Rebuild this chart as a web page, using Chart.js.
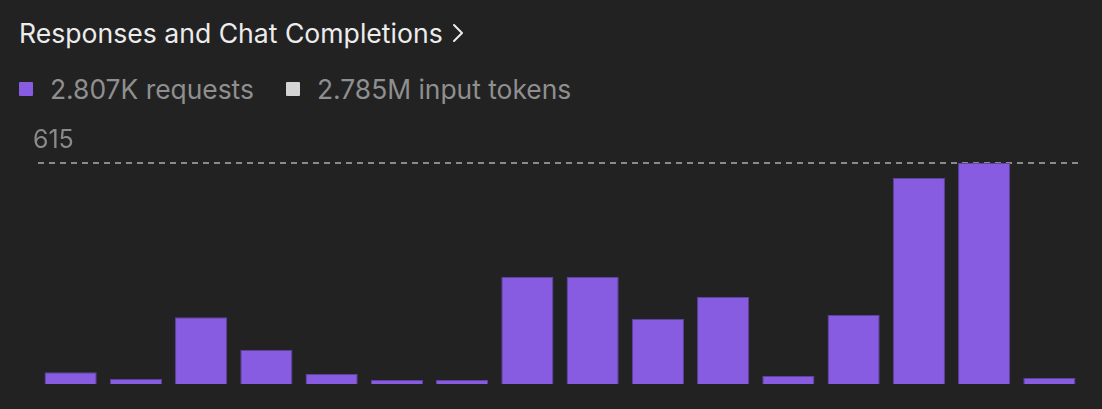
<!DOCTYPE html>
<html>
<head>
<meta charset="utf-8">
<script src="https://cdn.jsdelivr.net/npm/chart.js@4"></script>
<style>
  html, body { margin: 0; padding: 0; background: #222222; }
  body { width: 1102px; height: 409px; position: relative; overflow: hidden; font-family: Inter, "Noto Sans", sans-serif; }
  .title { position: absolute; left: 19px; top: 17px; font-size: 26.6px; line-height: 32px; color: #ececec; display: flex; align-items: center; }
  .title svg { margin-left: 8px; }
  .legend { position: absolute; left: 19px; top: 73px; font-size: 26.4px; line-height: 32px; color: #8f8f8f; display: flex; align-items: center; }
  .legend .item { display: flex; align-items: center; margin-right: 32px; }
  .legend .sw { width: 14px; height: 14px; margin-right: 17px; border-radius: 1px; }
  #wrap { position: absolute; left: 0; top: 120px; width: 1102px; height: 289px; }
</style>
</head>
<body>
<div class="title">Responses and Chat Completions<svg width="14" height="24" viewBox="0 0 14 24"><polyline points="3,4 11,12 3,20" fill="none" stroke="#ececec" stroke-width="2" stroke-linecap="round" stroke-linejoin="round"/></svg></div>
<div class="legend" id="legend"></div>
<div id="wrap"><canvas id="chart" width="1102" height="289"></canvas></div>
<script>
// daily request counts
const days = ["1", "2", "3", "4", "5", "6", "7", "8", "9", "10", "11", "12", "13", "14", "15", "16"];
const requests = [33, 14, 186, 95, 28, 11, 11, 298, 298, 181, 242, 22, 192, 573, 615, 17];
const yMax = 615;

const legendItems = ["2.807K requests", "2.785M input tokens"];
const legendColors = ["#875ce0", "#d4d4d4"];

// legend in html, like the original card
const legendEl = document.getElementById("legend");
legendItems.forEach((text, i) => {
    const item = document.createElement("div");
    item.className = "item";
    const sw = document.createElement("span");
    sw.className = "sw";
    sw.style.background = legendColors[i];
    item.appendChild(sw);
    item.appendChild(document.createTextNode(text));
    legendEl.appendChild(item);
});

new Chart(document.getElementById("chart"), {
    type: "bar",
    data: {
        labels: days,
        datasets: [
            {
                label: "requests",
                data: requests,
                backgroundColor: "#875ce0",
                borderColor: "#5e429f",
                borderWidth: 1,
                barPercentage: 0.8,
                categoryPercentage: 1.0,
            },
        ],
    },
    options: {
        responsive: false,
        animation: false,
        maintainAspectRatio: false,
        layout: { padding: { left: 38, right: 20, top: 43, bottom: 25 } },
        plugins: { legend: { display: false }, tooltip: { enabled: false } },
        scales: {
            x: { display: false },
            y: {
                min: 0,
                max: yMax,
                afterBuildTicks: (axis) => {
                    axis.ticks = [{ value: yMax }];
                },
                grid: { color: "#8a8a8a", lineWidth: 2, drawTicks: false },
                border: { display: false, dash: [6, 5] },
                ticks: {
                    mirror: true,
                    padding: -1.7,
                    labelOffset: -23,
                    color: "#8a8a8a",
                    font: { family: "Inter", size: 25 },
                },
            },
        },
    },
});
</script>
</body>
</html>
